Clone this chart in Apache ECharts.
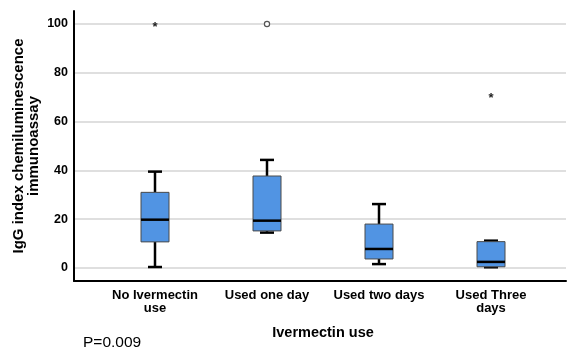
<!DOCTYPE html>
<html><head><meta charset="utf-8">
<script src="https://cdn.jsdelivr.net/npm/echarts@6/dist/echarts.min.js"></script>
<style>html,body{margin:0;padding:0;background:#fff}#c{width:568px;height:350px}</style>
</head><body><div id="c"></div>
<script>
const categories = ['No Ivermectin\nuse', 'Used one day', 'Used two days', 'Used Three\ndays'];
const whiskerLow = [0.4, 14.5, 1.6, 0.3];
const q1 = [10.7, 15.2, 3.7, 0.5];
const median = [19.8, 19.4, 7.8, 2.5];
const q3 = [31.0, 37.7, 18.0, 10.8];
const whiskerHigh = [39.5, 44.3, 26.2, 11.2];
const outlierCat = [0, 1, 3];
const outlierVal = [100, 100, 70.9];
const outlierType = ['star', 'circle', 'star'];
const yTicks = [0, 20, 40, 60, 80, 100];

const boxData = categories.map((c, i) => [i, whiskerLow[i], q1[i], median[i], q3[i], whiskerHigh[i]]);
const outData = outlierCat.map((c, i) => [c, outlierVal[i], outlierType[i]]);

const FONT = 'Liberation Sans, Arial, sans-serif';
const yMin = -5.33, yMax = 105.33;

const chart = echarts.init(document.getElementById('c'), null, {renderer: 'canvas'});
chart.setOption({
  animation: false,
  backgroundColor: '#fff',
  grid: [
    {left: 74, right: 2, top: 11, bottom: 69, containLabel: false, outerBoundsMode: 'none'},
    {left: 99, right: 21, top: 11, bottom: 69, containLabel: false, outerBoundsMode: 'none'}
  ],
  xAxis: [
    {gridIndex: 0, type: 'value', min: 0, max: 1, axisLabel: {show: false}, axisTick: {show: false}, splitLine: {show: false},
     axisLine: {show: true, onZero: false, lineStyle: {color: '#000', width: 2}}},
    {gridIndex: 1, type: 'category', data: categories, axisLine: {show: false}, axisTick: {show: false},
     axisLabel: {color: '#000', fontWeight: 'bold', fontSize: 13, fontFamily: FONT, margin: 8, lineHeight: 13, interval: 0},
     name: 'Ivermectin use', nameLocation: 'middle', nameGap: 44, nameMoveOverlap: false,
     nameTextStyle: {color: '#000', fontWeight: 'bold', fontSize: 14.5, fontFamily: FONT}}
  ],
  yAxis: [
    {gridIndex: 0, type: 'value', min: yMin, max: yMax,
     axisLine: {show: true, lineStyle: {color: '#000', width: 2}},
     axisTick: {show: false, customValues: yTicks},
     axisLabel: {customValues: yTicks, color: '#000', fontWeight: 'bold', fontSize: 12.5, fontFamily: FONT, margin: 6},
     splitLine: {show: true, lineStyle: {color: '#d4d4d4', width: 1.5}},
     name: 'IgG index chemiluminescence\nimmunoassay', nameLocation: 'middle', nameGap: 33, nameMoveOverlap: false,
     nameTextStyle: {color: '#000', fontWeight: 'bold', fontSize: 15, fontFamily: FONT, lineHeight: 15}},
    {gridIndex: 1, type: 'value', min: yMin, max: yMax, show: false, splitLine: {show: false}}
  ],
  graphic: [
    {type: 'text', left: 83, top: 335, style: {text: 'P=0.009', fontSize: 15.5, fontFamily: FONT, fill: '#000'}}
  ],
  series: [
    {
      type: 'custom', xAxisIndex: 1, yAxisIndex: 1, data: boxData,
      encode: {x: 0, y: [1, 2, 3, 4, 5]},
      renderItem(params, api) {
        const i = api.value(0);
        const band = api.size([1, 0])[0];
        const bw = band * 0.25, cw = bw * 0.5;
        const pLo = api.coord([i, api.value(1)]);
        const pQ1 = api.coord([i, api.value(2)]);
        const pMed = api.coord([i, api.value(3)]);
        const pQ3 = api.coord([i, api.value(4)]);
        const pHi = api.coord([i, api.value(5)]);
        const x = pMed[0];
        const ls = {stroke: '#000', lineWidth: 2.5};
        return {type: 'group', children: [
          {type: 'line', shape: {x1: x, y1: pQ3[1], x2: x, y2: pHi[1]}, style: ls},
          {type: 'line', shape: {x1: x, y1: pQ1[1], x2: x, y2: pLo[1]}, style: ls},
          {type: 'line', shape: {x1: x - cw / 2, y1: pHi[1], x2: x + cw / 2, y2: pHi[1]}, style: ls},
          {type: 'line', shape: {x1: x - cw / 2, y1: pLo[1], x2: x + cw / 2, y2: pLo[1]}, style: ls},
          {type: 'rect', shape: {x: x - bw / 2, y: pQ3[1], width: bw, height: pQ1[1] - pQ3[1]},
           style: {fill: '#5194e3', stroke: '#4a4a4a', lineWidth: 1}},
          {type: 'line', shape: {x1: x - bw / 2, y1: pMed[1], x2: x + bw / 2, y2: pMed[1]}, style: {stroke: '#000', lineWidth: 2.5}}
        ]};
      }
    },
    {
      type: 'custom', xAxisIndex: 1, yAxisIndex: 1, data: outData,
      encode: {x: 0, y: 1},
      renderItem(params, api) {
        const p = api.coord([api.value(0), api.value(1)]);
        const t = outData[params.dataIndex][2];
        if (t === 'circle') {
          return {type: 'circle', shape: {cx: p[0], cy: p[1], r: 2.6}, style: {fill: '#fff', stroke: '#555', lineWidth: 1.2}};
        }
        return {type: 'text', x: p[0], y: p[1] + 3, style: {text: '*', fontSize: 13, fontWeight: 'bold', fontFamily: FONT, fill: '#222', align: 'center', verticalAlign: 'middle'}};
      }
    }
  ]
});
</script></body></html>
